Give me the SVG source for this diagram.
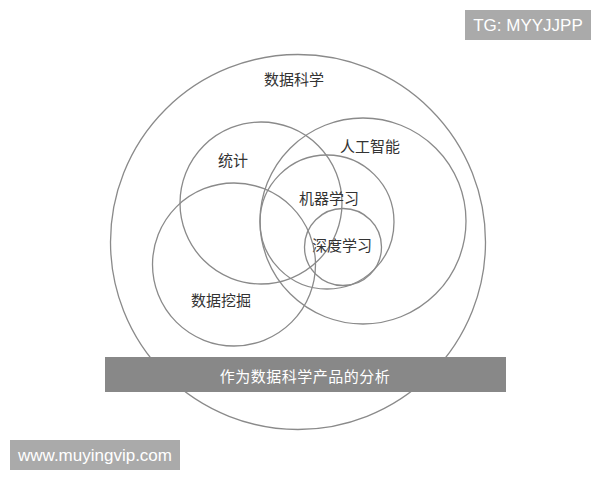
<svg xmlns="http://www.w3.org/2000/svg" width="600" height="480" viewBox="0 0 600 480">
<style>
.c{fill:none;stroke:#8a8a8a;stroke-width:1.3}
.t{font-family:"Liberation Serif","Noto Sans CJK SC",serif;font-size:15px;fill:#333;text-anchor:middle}
.w{font-family:"Liberation Sans","Noto Sans CJK SC",sans-serif;fill:#fff;text-anchor:middle}
</style>
<rect width="600" height="480" fill="#fff"/>
<g id="datascience"><circle class="c" cx="298" cy="242" r="187.5"/><text class="t" x="294" y="85">数据科学</text></g>
<g id="stats"><circle class="c" cx="261" cy="203" r="81"/><text class="t" x="233" y="166">统计</text></g>
<g id="ai"><circle class="c" cx="363" cy="221" r="103"/><text class="t" x="370" y="152">人工智能</text></g>
<g id="ml"><circle class="c" cx="327" cy="222" r="67"/><text class="t" x="329" y="204">机器学习</text></g>
<g id="dl"><circle class="c" cx="343" cy="247" r="38.5"/><text class="t" x="342" y="251">深度学习</text></g>
<g id="dm"><circle class="c" cx="234" cy="264.5" r="81.5"/><text class="t" x="221" y="306">数据挖掘</text></g>
<g id="bar"><rect x="105" y="357" width="401" height="35" fill="#888"/><text class="w" x="305" y="382" font-size="15" style="font-family:'Noto Sans CJK SC',sans-serif;letter-spacing:0.5px">作为数据科学产品的分析</text></g>
<g id="tg"><rect x="465" y="10" width="126" height="30" fill="#aaa"/><text class="w" x="528" y="31" font-size="17">TG: MYYJJPP</text></g>
<g id="www"><rect x="10" y="440" width="170" height="30" fill="#aaa"/><text class="w" x="95" y="461" font-size="17">www.muyingvip.com</text></g>
<g id="connectors"></g>
</svg>
